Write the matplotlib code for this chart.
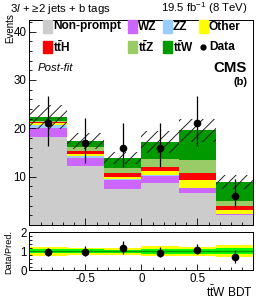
import numpy as np
import matplotlib
matplotlib.use("Agg")
import matplotlib.pyplot as plt
from matplotlib.patches import Rectangle
from matplotlib.lines import Line2D
from matplotlib.ticker import MultipleLocator

plt.rcParams['font.family'] = ['Liberation Sans', 'DejaVu Sans']
plt.rcParams['mathtext.fontset'] = 'custom'
plt.rcParams['mathtext.rm'] = 'Liberation Sans'
plt.rcParams['mathtext.it'] = 'Liberation Sans:italic'
plt.rcParams['mathtext.bf'] = 'Liberation Sans:bold'
plt.rcParams['hatch.linewidth'] = 0.7

# ---------------- data ----------------
bin_edges = [-1.0, -2/3, -1/3, 0.0, 1/3, 2/3, 1.0]
nonprompt = [18.3, 12.1, 7.45, 8.75, 6.7, 2.0]
wz        = [1.8, 1.7, 1.95, 1.35, 0.9, 0.2]
zz        = [0.65, 0.4, 0.1, 0.2, 0.05, 0.05]
other     = [0.25, 0.5, 0.4, 0.8, 1.7, 0.85]
tth       = [0.3, 0.6, 0.8, 0.9, 1.4, 0.8]
ttz       = [0.2, 0.9, 1.1, 1.6, 2.6, 1.1]
ttw       = [0.8, 1.2, 2.1, 3.6, 6.2, 3.9]
bkg_unc   = [2.5, 1.7, 1.3, 2.3, 2.4, 1.4]
data      = [21, 17, 16, 16, 21, 6]
data_up   = [5.6, 5.2, 5.1, 5.1, 5.6, 3.6]
data_dn   = [4.6, 4.1, 4.0, 4.0, 4.6, 2.4]

labels = ['Non-prompt', 'WZ', 'ZZ', 'Other', r'$\mathbf{t\bar{t}H}$',
          r'$\mathbf{t\bar{t}Z}$', r'$\mathbf{t\bar{t}W}$']
colors = ['#cccccc', '#cc66ff', '#99ccff', '#ffff00', '#ff0000', '#99cc66', '#009900']
components = [nonprompt, wz, zz, other, tth, ttz, ttw]

edges = np.array(bin_edges)
centers = 0.5 * (edges[:-1] + edges[1:])

W, H = 266, 300
fig = plt.figure(figsize=(W / 100, H / 100), dpi=100)

def fx(x):
    return x / W

def fy(y):
    return 1 - y / H

ax = fig.add_axes([fx(29.3), fy(225), fx(253.3) - fx(29.3), fy(19.5) - fy(225)])
rax = fig.add_axes([fx(29.3), fy(270.3), fx(253.3) - fx(29.3), fy(232.3) - fy(270.3)])

# stack
base = np.zeros(6)
for vals, col in zip(components, colors):
    v = np.array(vals)
    ax.stairs(base + v, edges, baseline=base, fill=True, color=col, linewidth=0)
    base = base + v
total = base
unc = np.array(bkg_unc)
ax.stairs(total + unc, edges, baseline=total - unc, fill=True, facecolor='none',
          edgecolor='#222222', hatch='///', linewidth=0)

ax.errorbar(centers, data, yerr=[data_dn, data_up], fmt='o', color='black',
            markersize=4.5, elinewidth=0.9, capsize=0, zorder=5)

ax.set_xlim(-1, 1)
ax.set_ylim(0, 42.5)
ax.set_yticks([10, 20, 30, 40])
ax.yaxis.set_minor_locator(MultipleLocator(2))
ax.xaxis.set_major_locator(MultipleLocator(0.5))
ax.xaxis.set_minor_locator(MultipleLocator(0.1))
ax.tick_params(which='both', direction='in', labelsize=8.3, pad=2)
ax.tick_params(which='major', length=5, width=0.6)
ax.tick_params(which='minor', length=2.5, width=0.6)
ax.tick_params(axis='x', labelbottom=False)
for s in ax.spines.values():
    s.set_linewidth(0.7)

# ratio
rel = unc / total
rax.stairs(1 + 2 * rel, edges, baseline=1 - 2 * rel, fill=True, color='#ffff00', linewidth=0)
rax.stairs(1 + rel, edges, baseline=1 - rel, fill=True, color='#00ff00', linewidth=0)
rax.axhline(1, color='#009900', linewidth=1.0)
ratio = np.array(data) / total
rax.errorbar(centers, ratio, yerr=[np.array(data_dn) / total, np.array(data_up) / total],
             fmt='o', color='black', markersize=4.5, elinewidth=0.9, capsize=0, zorder=5)
rax.set_xlim(-1, 1)
rax.set_ylim(0, 2)
rax.yaxis.set_major_locator(MultipleLocator(1))
rax.yaxis.set_minor_locator(MultipleLocator(0.2))
rax.xaxis.set_minor_locator(MultipleLocator(0.1))
rax.set_xticks([-0.5, 0, 0.5])
rax.set_xticklabels(['-0.5', '0', '0.5'])
rax.tick_params(which='both', direction='in', labelsize=8.3, pad=2)
rax.tick_params(which='major', length=4, width=0.6)
rax.tick_params(which='minor', length=2, width=0.6)
for s in rax.spines.values():
    s.set_linewidth(0.7)

# texts
fig.text(fx(10), fy(11.5), r'3$\mathit{l}$ + ≥2 jets + b tags', fontsize=8.2,
         ha='left', va='baseline')
fig.text(fx(248), fy(11.5), r'19.5 fb$^{-1}$ (8 TeV)', fontsize=8.2, ha='right', va='baseline')
fig.text(fx(10), fy(13), 'Events', rotation=90, fontsize=7, ha='center', va='top')
fig.text(fx(9), fy(252), 'Data/Pred.', rotation=90, fontsize=6.6, ha='center', va='center')
fig.text(fx(253), fy(292), r'$\mathrm{t\bar{t}W}$ BDT', fontsize=8.6, ha='right', va='center')
fig.text(fx(37.5), fy(68.5), 'Post-fit', fontsize=8.2, style='italic', ha='left', va='center')
fig.text(fx(247), fy(68), 'CMS', fontsize=10.8, weight='bold', ha='right', va='center')
fig.text(fx(247), fy(82), '(b)', fontsize=8, weight='bold', ha='right', va='center')

# legend (manual)
leg_pos = [(43, 26.5), (128, 26.5), (163, 26.5), (198.7, 26.5),
           (43, 46.7), (128, 46.7), (163, 46.7)]
for (x, y), lab, col in zip(leg_pos, labels, colors):
    fig.patches.append(Rectangle((fx(x), fy(y + 6)), fx(9), 12 / H, color=col,
                                 transform=fig.transFigure, figure=fig))
    fig.text(fx(x + 10), fy(y), lab, fontsize=8.6, weight='bold', ha='left', va='center')
fig.lines.append(Line2D([fx(202.7)], [fy(46.7)], marker='o', color='black', markersize=3.5,
                        transform=fig.transFigure, figure=fig))
fig.text(fx(209), fy(46.7), 'Data', fontsize=8.6, weight='bold', ha='left', va='center')

fig.savefig('out.png', dpi=100)
